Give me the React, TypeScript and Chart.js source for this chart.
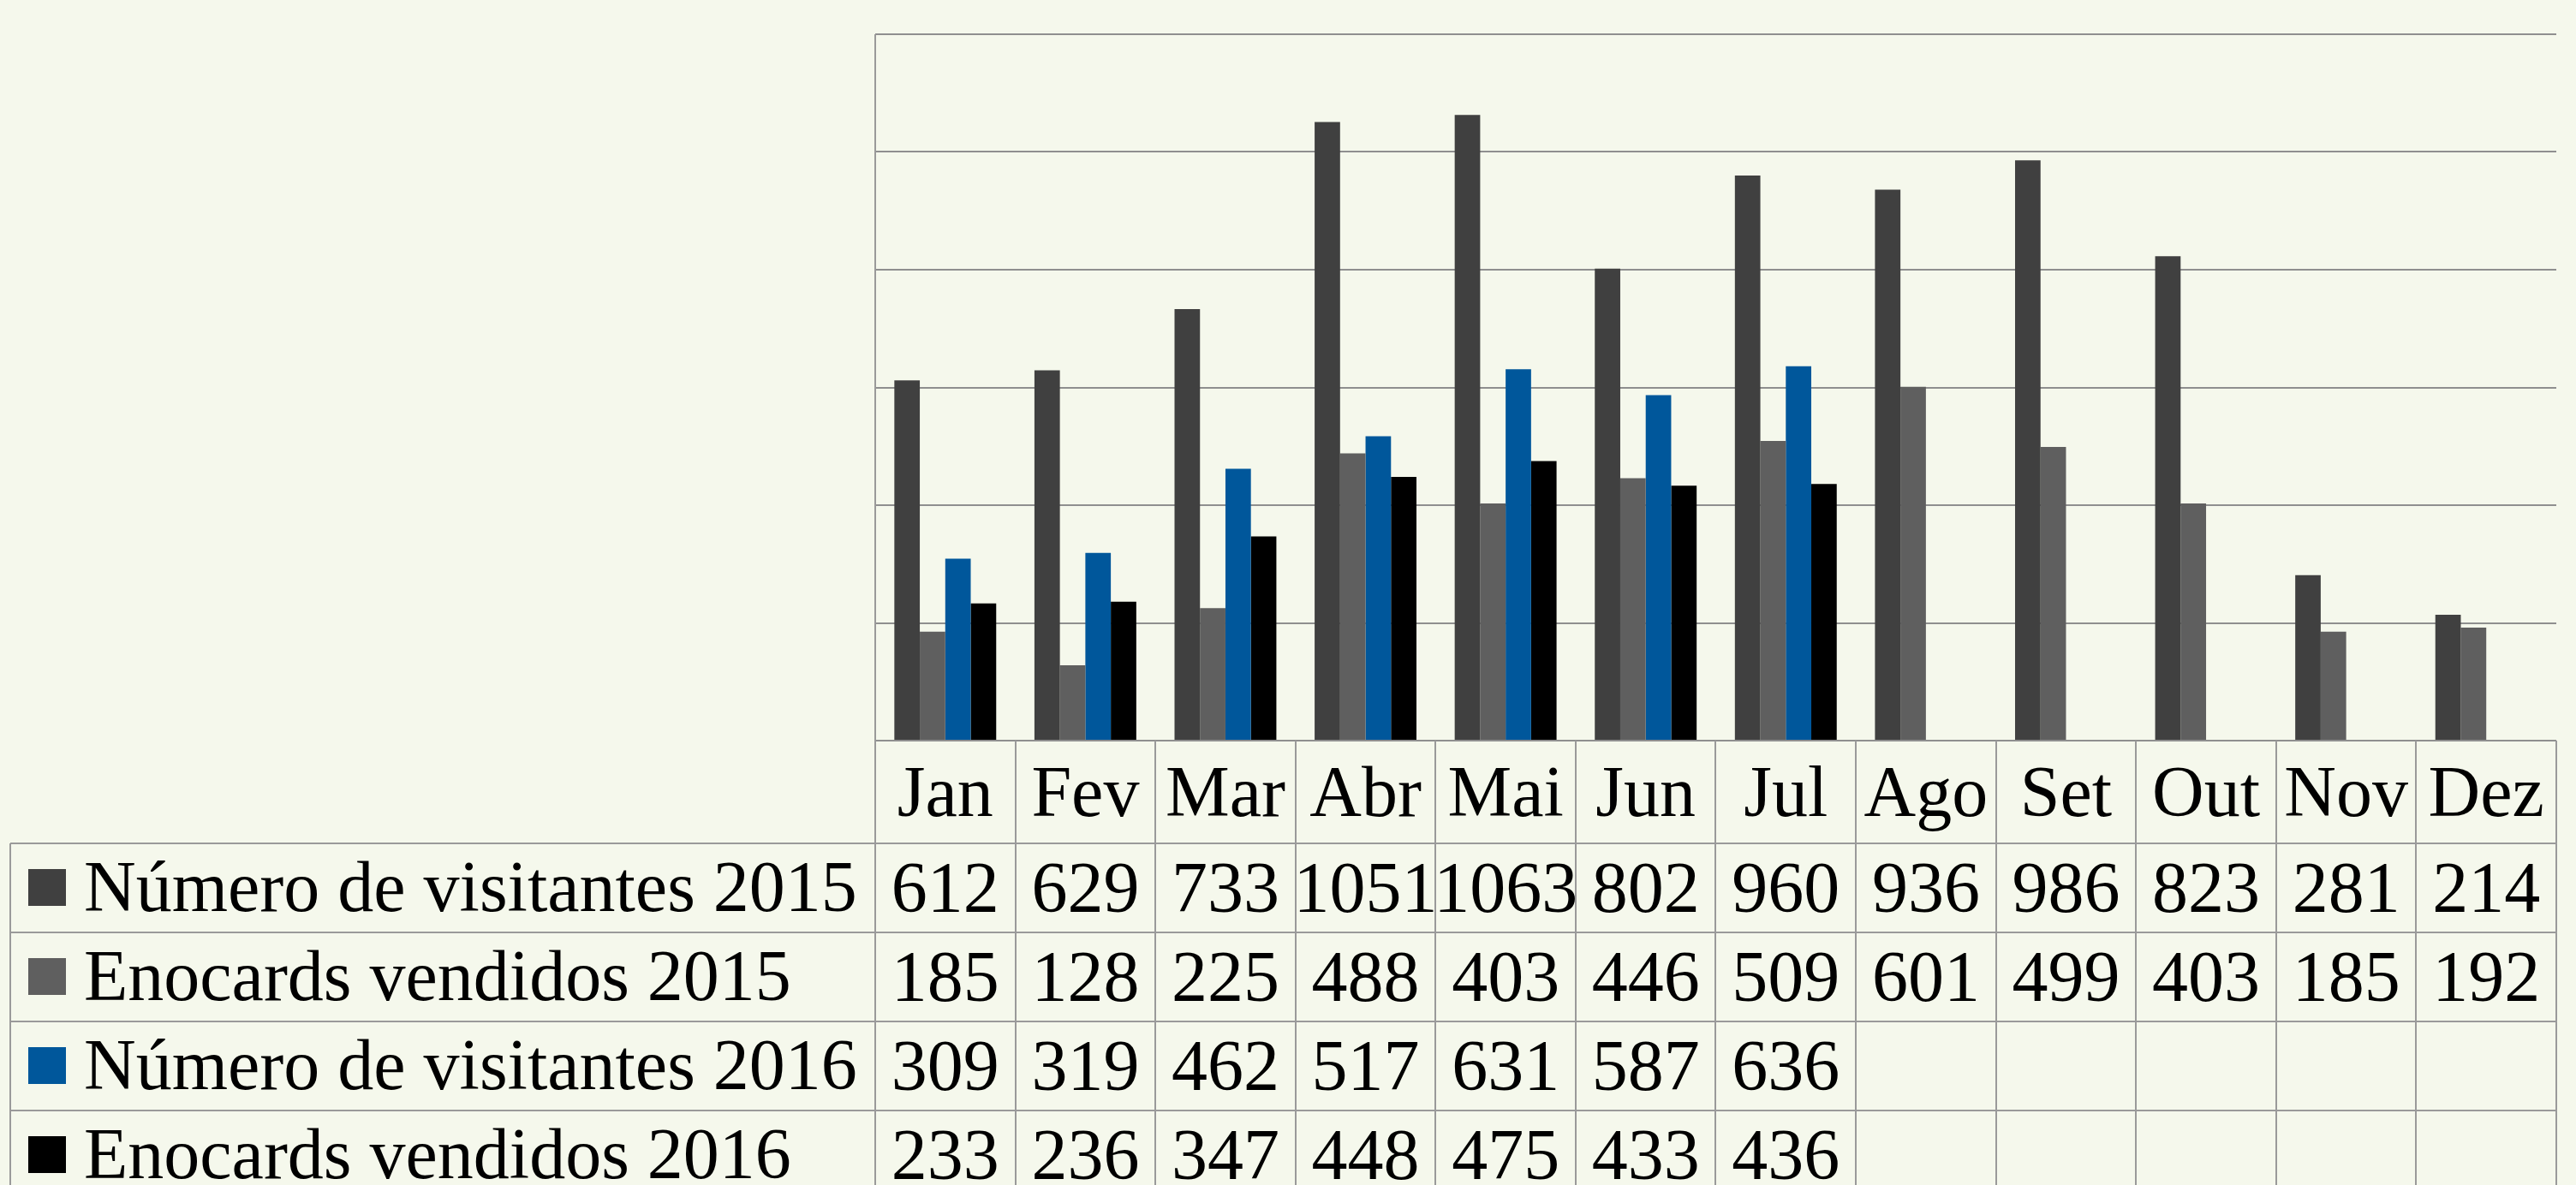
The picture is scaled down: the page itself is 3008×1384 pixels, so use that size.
import React, { useEffect, useRef } from "react";
import { Chart, registerables } from "chart.js";

Chart.register(...registerables);

const months = ["Jan", "Fev", "Mar", "Abr", "Mai", "Jun", "Jul", "Ago", "Set", "Out", "Nov", "Dez"];
const seriesNames = [
  "Número de visitantes 2015",
  "Enocards vendidos 2015",
  "Número de visitantes 2016",
  "Enocards vendidos 2016",
];
const visitantes2015 = [612, 629, 733, 1051, 1063, 802, 960, 936, 986, 823, 281, 214];
const enocards2015 = [185, 128, 225, 488, 403, 446, 509, 601, 499, 403, 185, 192];
const visitantes2016 = [309, 319, 462, 517, 631, 587, 636, null, null, null, null, null];
const enocards2016 = [233, 236, 347, 448, 475, 433, 436, null, null, null, null, null];
const seriesColors = ["#404040", "#5f5f5f", "#00579b", "#000000"];
const yTicks = [0, 200, 400, 600, 800, 1000, 1200];

const BG = "#f5f8ec";
const LINE = "#9a9a9a";
const FONT = '84px "Liberation Serif", "Times New Roman", serif';

const tablePlugin = {
  id: "dataTable",
  beforeDraw(chart: any) {
    const ctx = chart.ctx;
    ctx.save();
    ctx.fillStyle = BG;
    ctx.fillRect(0, 0, chart.width, chart.height);
    ctx.restore();
  },
  afterDraw(chart: any) {
    const ctx = chart.ctx;
    const area = chart.chartArea;
    const xs = chart.scales.x;
    const p0 = xs.getPixelForValue(0);
    const p1 = xs.getPixelForValue(1);
    const w = p1 - p0;
    const start = p0 - w / 2;
    const n = months.length;
    const tableRight = start + n * w;
    const headerTop = area.bottom;
    const headerH = 120;
    const rowH = 104;
    const legendLeft = 12;
    const rowsTop = headerTop + headerH;
    const bottom = chart.height;
    const data = chart.data.datasets.map((d: any) => d.data);

    ctx.save();
    ctx.strokeStyle = LINE;
    ctx.lineWidth = 2;
    // left border of plot + table
    ctx.beginPath();
    ctx.moveTo(Math.round(area.left), area.top);
    ctx.lineTo(Math.round(area.left), bottom);
    ctx.stroke();
    // column separators in table
    for (let i = 1; i <= n; i++) {
      const x = Math.round(start + i * w);
      ctx.beginPath();
      ctx.moveTo(x, headerTop);
      ctx.lineTo(x, bottom);
      ctx.stroke();
    }
    // legend column left border
    ctx.beginPath();
    ctx.moveTo(legendLeft, rowsTop);
    ctx.lineTo(legendLeft, bottom);
    ctx.stroke();
    // horizontal row lines
    for (let r = 0; r < seriesNames.length; r++) {
      const y = Math.round(rowsTop + r * rowH);
      ctx.beginPath();
      ctx.moveTo(legendLeft, y);
      ctx.lineTo(tableRight, y);
      ctx.stroke();
    }

    ctx.fillStyle = "#000";
    ctx.font = FONT;
    ctx.textBaseline = "alphabetic";
    ctx.textAlign = "center";
    // month headers
    for (let i = 0; i < n; i++) {
      ctx.fillText(months[i], xs.getPixelForValue(i), headerTop + 88);
    }
    // rows
    for (let r = 0; r < seriesNames.length; r++) {
      const top = rowsTop + r * rowH;
      ctx.fillStyle = seriesColors[r];
      ctx.fillRect(33, top + 30, 44, 43);
      ctx.fillStyle = "#000";
      ctx.textAlign = "left";
      ctx.fillText(seriesNames[r], 98, top + 79);
      ctx.textAlign = "center";
      for (let i = 0; i < n; i++) {
        const v = data[r][i];
        if (v === null || v === undefined) continue;
        ctx.fillText(String(v), xs.getPixelForValue(i), top + 80);
      }
    }
    ctx.restore();
  },
};

export default function App() {
  const ref = useRef<HTMLCanvasElement | null>(null);
  useEffect(() => {
    document.body.style.background = BG;
    const canvas = ref.current;
    if (!canvas) return;
    const chart = new Chart(canvas, {
      type: "bar",
      data: {
        labels: months,
        datasets: [visitantes2015, enocards2015, visitantes2016, enocards2016].map((d, i) => ({
          label: seriesNames[i],
          data: d,
          backgroundColor: seriesColors[i],
          borderWidth: 0,
          categoryPercentage: 0.727,
          barPercentage: 1.0,
        })),
      },
      options: {
        responsive: false,
        animation: false,
        devicePixelRatio: 1,
        layout: { padding: { left: 1022, right: 23, top: 40, bottom: 519 } },
        plugins: {
          legend: { display: false },
          tooltip: { enabled: false },
          title: { display: false },
        },
        scales: {
          x: {
            display: false,
          },
          y: {
            display: true,
            min: yTicks[0],
            max: yTicks[yTicks.length - 1],
            afterBuildTicks: (scale: any) => {
              scale.ticks = yTicks.map((v) => ({ value: v }));
            },
            afterFit: (scale: any) => {
              scale.width = 0;
            },
            ticks: { display: false },
            border: { display: false },
            grid: { color: "#8f8f8f", lineWidth: 2, drawTicks: false },
          },
        },
      },
      plugins: [tablePlugin],
    } as any);
    return () => chart.destroy();
  }, []);
  return (
    <div style={{ position: "fixed", left: 0, top: 0, width: 3008, height: 1384, background: BG }}>
      <canvas ref={ref} width={3008} height={1384} style={{ display: "block", width: 3008, height: 1384 }} />
    </div>
  );
}
